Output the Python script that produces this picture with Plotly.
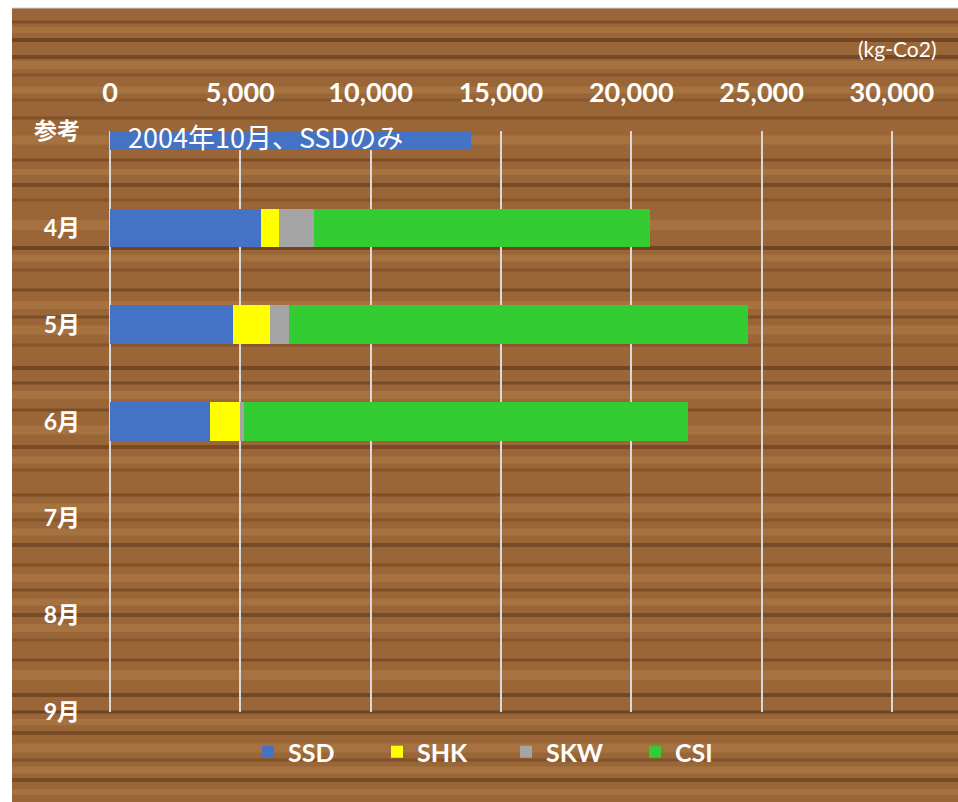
import plotly.graph_objects as go

categories = ["参考", "4月", "5月", "6月", "7月", "8月", "9月"]
ssd = [13840, 5790, 4720, 3830, None, None, None]
shk = [0, 700, 1410, 1150, None, None, None]
skw = [0, 1340, 750, 180, None, None, None]
csi = [0, 12900, 17610, 17030, None, None, None]
series_names = ["SSD", "SHK", "SKW", "CSI"]
series_colors = ["#4472C4", "#FFFF00", "#A5A5A5", "#33CC33"]
x_ticks = [0, 5000, 10000, 15000, 20000, 25000, 30000]
note_text = "2004年10月、SSDのみ"
unit_text = "(kg-Co2)"

W, H = 958, 802
ML, MT = 110, 131
MR = 14
MB = H - 712
PW, PH = W - ML - MR, H - MT - MB

def px(x):  # page pixel -> paper
    return (x - ML) / PW

def py(y):
    return (H - MB - y) / PH

fig = go.Figure()
for name, vals, col in zip(series_names, [ssd, shk, skw, csi], series_colors):
    fig.add_trace(go.Bar(y=categories, x=vals, name=name, orientation="h",
                         marker=dict(color=col, line=dict(width=0))))

# wood-like background
shapes = [dict(type="rect", xref="paper", yref="paper", x0=px(12), x1=px(970),
               y0=py(815), y1=py(8), fillcolor="#9A6637", line=dict(width=0), layer="below")]
dark = [(22, 3, 0.35), (40, 4, 0.5), (57, 4, 0.45), (75, 3, 0.25), (100, 3, 0.2), (118, 3, 0.3),
        (160, 3, 0.35), (185, 4, 0.4), (200, 3, 0.25), (248, 4, 0.5), (270, 3, 0.25), (290, 3, 0.4),
        (317, 3, 0.35), (345, 3, 0.25), (368, 4, 0.45), (383, 3, 0.4), (410, 3, 0.35), (447, 4, 0.4),
        (470, 3, 0.25), (495, 3, 0.35), (520, 3, 0.25), (545, 4, 0.4), (565, 3, 0.3), (590, 3, 0.35),
        (615, 4, 0.4), (640, 3, 0.25), (660, 3, 0.35), (695, 4, 0.45), (712, 3, 0.5), (733, 4, 0.4),
        (760, 3, 0.3), (780, 4, 0.4)]
light = [(30, 6), (65, 8), (90, 7), (140, 9), (172, 6), (225, 10), (258, 7), (305, 8), (330, 9),
         (395, 8), (430, 9), (460, 7), (508, 9), (532, 7), (578, 8), (602, 7), (628, 8), (675, 10),
         (722, 6), (748, 9), (770, 7), (792, 6)]
for y, t, a in dark:
    shapes.append(dict(type="rect", xref="paper", yref="paper", x0=px(12), x1=px(970),
                       y0=py(y + t / 2), y1=py(y - t / 2), fillcolor=f"rgba(70,35,15,{a})",
                       line=dict(width=0), layer="below"))
for y, t in light:
    shapes.append(dict(type="rect", xref="paper", yref="paper", x0=px(12), x1=px(970),
                       y0=py(y + t / 2), y1=py(y - t / 2), fillcolor="rgba(200,150,90,0.25)",
                       line=dict(width=0), layer="below"))
shapes.append(dict(type="line", xref="paper", yref="paper", x0=px(12), x1=px(970),
                   y0=py(8), y1=py(8), line=dict(color="#D0D0D0", width=1), layer="below"))

fig.update_layout(
    width=W, height=H,
    margin=dict(l=ML, r=MR, t=MT, b=MB),
    paper_bgcolor="white", plot_bgcolor="rgba(0,0,0,0)",
    barmode="stack", bargap=0.603,
    shapes=shapes,
    showlegend=True,
    legend=dict(orientation="h", x=px(506), xanchor="center", y=py(752), yanchor="middle",
                font=dict(family="Lato, Noto Sans CJK JP", size=25, color="white", weight="bold"),
                bgcolor="rgba(0,0,0,0)", entrywidth=84, traceorder="normal"),
    xaxis=dict(side="top", range=[0, 32000], tickvals=x_ticks,
               ticktext=[f"{v:,}" for v in x_ticks],
               tickfont=dict(family="Lato, Noto Sans", size=27, color="white", weight="bold"),
               showgrid=True, gridcolor="#D9D9D9", gridwidth=1.5,
               zeroline=True, zerolinecolor="#D9D9D9", zerolinewidth=1.5,
               showline=False, ticks="", ticklabelstandoff=23, fixedrange=True),
    yaxis=dict(categoryorder="array", categoryarray=categories, range=[6.0, 0.0],
               tickfont=dict(family="Lato, Noto Sans CJK JP", size=23, color="white", weight="bold"),
               showgrid=False, zeroline=False, showline=False, ticks="", ticklabelstandoff=29,
               fixedrange=True),
    annotations=[
        dict(text=note_text, xref="x", yref="y", x=0, y="参考", xanchor="left", yanchor="middle",
             xshift=16, yshift=-5, showarrow=False,
             font=dict(family="Noto Sans CJK JP", size=27, color="white")),
        dict(text=unit_text, xref="paper", yref="paper", x=px(939), y=py(49), xanchor="right",
             yanchor="middle", showarrow=False,
             font=dict(family="Lato, Noto Sans", size=21, color="white")),
    ],
)

fig.write_html("out.html", config={"displayModeBar": False},
               post_script="document.body.style.margin='0';document.body.style.overflow='hidden';")
